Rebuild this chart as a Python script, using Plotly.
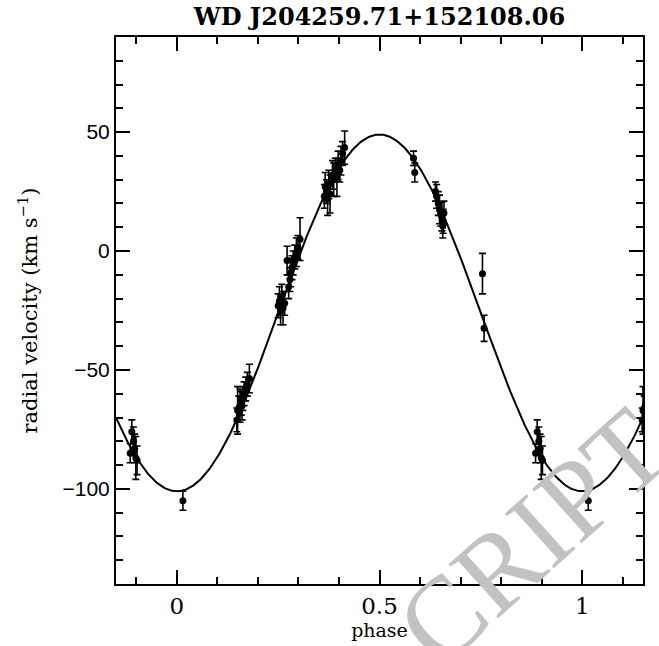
import numpy as np
import plotly.graph_objects as go

# ---- data ----
phase = [0.015,
         0.148, 0.150, 0.153, 0.156, 0.159, 0.161, 0.163, 0.166, 0.170, 0.174, 0.179,
         0.250, 0.253, 0.256, 0.259, 0.262, 0.266, 0.272, 0.276, 0.279, 0.281, 0.284,
         0.287, 0.291, 0.295, 0.299, 0.304,
         0.364, 0.366, 0.369, 0.372, 0.375, 0.378, 0.384, 0.387, 0.391, 0.395, 0.398,
         0.402, 0.405, 0.409, 0.414,
         0.584, 0.587,
         0.638, 0.641, 0.645, 0.648, 0.651, 0.654, 0.657, 0.659, 0.656,
         0.754, 0.758,
         0.885, 0.889, 0.893, 0.896, 0.899, 0.902]
rv = [-105,
      -71, -67, -66, -65, -64, -65, -62, -60, -58, -56, -53.6,
      -23, -21, -25, -19, -24, -22, -4, -15, -12, -9, -7,
      -5, -2.5, -0.5, 1.5, 5,
      23, 27, 25, 22, 28, 24, 32, 30, 34, 31, 36,
      34, 38, 41, 43.5,
      39, 33,
      25, 23, 20, 17.5, 15.5, 14.5, 12.5, 16, 10.5,
      -9.5, -32.5,
      -85, -76, -80, -83, -87, -88]
rv_err = [4,
          5, 10, 5, 7, 5, 6, 5, 5, 5, 5, 6,
          5, 6, 6, 5, 7, 5, 6, 5, 5, 6, 5,
          5, 5, 6, 5, 9,
          5, 6, 5, 7, 6, 8, 6, 7, 5, 8, 6,
          5, 6, 5, 7,
          3, 4,
          4, 5, 5, 6, 5, 6, 5, 5, 5,
          8.5, 5.5,
          4, 5, 6, 6, 9, 6]

# sinusoidal fit parameters
gamma = -26.0   # systemic velocity, km/s
K = 75.0        # semi-amplitude, km/s

x_range = [-0.15, 1.15]
y_range = [-140, 90]
x_tickvals = [0, 0.5, 1]
x_ticktext = ["0", "0.5", "1"]
y_tickvals = [-100, -50, 0, 50]

title_text = "WD J204259.71+152108.06"
x_title = "phase"
y_title = "radial velocity (km s<sup>\u22121</sup>)"
watermark = "CRIPT"

# ---- build figure ----
ph = np.array(phase)
v = np.array(rv)
e = np.array(rv_err)
px = np.concatenate([ph - 1, ph, ph + 1])
pv = np.concatenate([v, v, v])
pe = np.concatenate([e, e, e])

fx = np.linspace(x_range[0], x_range[1], 600)
fy = gamma - K * np.cos(2 * np.pi * fx)

fig = go.Figure()
fig.add_trace(go.Scatter(x=fx, y=fy, mode="lines",
                         line=dict(color="black", width=2), hoverinfo="skip",
                         showlegend=False))
fig.add_trace(go.Scatter(x=px, y=pv, mode="markers",
                         marker=dict(color="black", size=7),
                         error_y=dict(type="data", array=pe, color="black",
                                      thickness=1.6, width=3.5),
                         showlegend=False))

axis_common = dict(showgrid=False, zeroline=False, showline=True,
                   linecolor="black", linewidth=2, mirror="allticks",
                   ticks="inside", tickcolor="black", tickwidth=1.5,
                   ticklen=14)

fig.update_xaxes(range=x_range, tickvals=x_tickvals, ticktext=x_ticktext,
                 tickfont=dict(family="DejaVu Serif", size=23, color="black"),
                 title=dict(text=x_title, standoff=2,
                            font=dict(family="DejaVu Serif", size=19, color="black")),
                 minor=dict(dtick=0.1, tick0=0, ticks="inside", ticklen=7,
                            tickwidth=1.5, tickcolor="black", showgrid=False),
                 **axis_common)
fig.update_yaxes(range=y_range, tickvals=y_tickvals,
                 tickfont=dict(family="Liberation Sans", size=21, color="black"),
                 title=dict(text=y_title, standoff=19,
                            font=dict(family="DejaVu Serif", size=21, color="black")),
                 minor=dict(dtick=10, tick0=0, ticks="inside", ticklen=7,
                            tickwidth=1.5, tickcolor="black", showgrid=False),
                 **axis_common)

fig.update_layout(
    width=659, height=646,
    margin=dict(l=116, r=16, t=37, b=59),
    paper_bgcolor="white", plot_bgcolor="white",
    title=dict(text="<b>" + title_text + "</b>", x=0.5, xref="paper",
               y=0.974, yanchor="middle",
               font=dict(family="DejaVu Serif", size=24, color="black")),
)

fig.add_annotation(text=watermark, xref="paper", yref="paper",
                   x=(532 - 116) / 527, y=(587 - 540) / 550,
                   xanchor="center", yanchor="middle", showarrow=False,
                   textangle=-42,
                   font=dict(family="Liberation Serif", size=112,
                             color="rgb(194,194,194)"))

fig.write_html("out.html")
